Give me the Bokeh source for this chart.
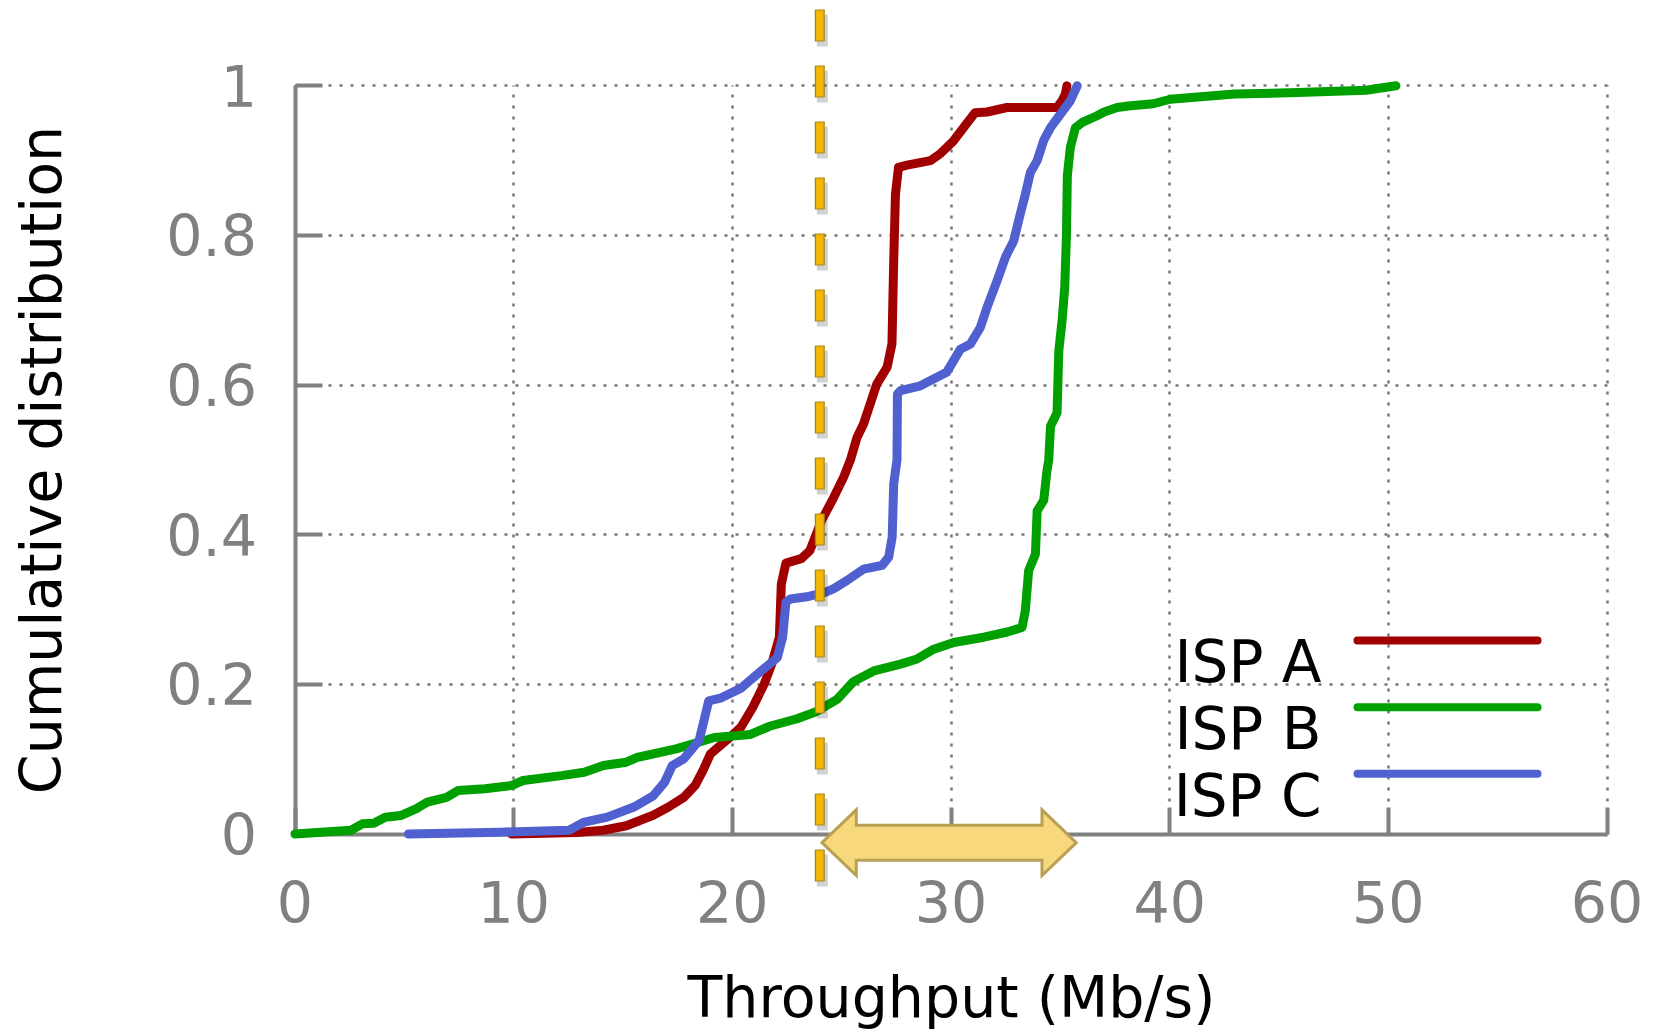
from bokeh.plotting import figure
from bokeh.models import Range1d, FixedTicker
from bokeh.core.properties import value
from bokeh.embed import file_html
from bokeh.resources import INLINE

# ---------------- data ----------------
isp_a_x = [9.9, 12.88, 14.1, 15.15, 16.38, 17.08, 17.78, 18.3, 18.66, 19.0, 19.88, 20.4,
           20.93, 21.45, 21.8, 22.15, 22.24, 22.45, 23.15, 23.55, 24.08, 24.64, 25.09, 25.4,
           25.7, 26.0, 26.6, 27.08, 27.3, 27.38, 27.46, 27.6, 27.99, 29.06, 29.5, 30.1,
           30.7, 31.1, 31.65, 32.56, 34.85, 35.08, 35.23, 35.3]
isp_a_y = [0.0, 0.002, 0.005, 0.011, 0.025, 0.036, 0.049, 0.065, 0.085, 0.107, 0.129, 0.143,
           0.169, 0.200, 0.227, 0.263, 0.334, 0.362, 0.368, 0.379, 0.419, 0.450, 0.477, 0.500,
           0.530, 0.548, 0.601, 0.624, 0.655, 0.766, 0.855, 0.891, 0.894, 0.900, 0.909, 0.926,
           0.949, 0.964, 0.965, 0.971, 0.971, 0.980, 0.989, 1.0]

isp_b_x = [0.0, 2.56, 3.08, 3.6, 4.13, 4.83, 5.53, 6.05, 6.93, 7.45, 8.68, 9.9, 10.43, 12.18,
           13.23, 14.1, 15.15, 15.68, 17.43, 19.18, 20.83, 21.7, 22.96, 23.8, 24.79, 25.55,
           26.47, 27.69, 28.45, 29.21, 30.12, 31.5, 32.57, 33.25, 33.4, 33.55, 33.86, 33.94,
           34.24, 34.39, 34.47, 34.55, 34.85, 34.93, 35.08, 35.2, 35.28, 35.32, 35.46, 35.69,
           36.0, 36.68, 37.0, 37.6, 38.1, 39.25, 40.03, 42.96, 45.87, 48.98, 50.35]
isp_b_y = [0.0, 0.005, 0.0136, 0.0143, 0.0225, 0.0247, 0.0336, 0.0425, 0.049, 0.058, 0.0604,
           0.0648, 0.0715, 0.078, 0.0826, 0.0915, 0.096, 0.1026, 0.1138, 0.129, 0.133, 0.144,
           0.154, 0.163, 0.180, 0.204, 0.218, 0.227, 0.234, 0.247, 0.256, 0.263, 0.270, 0.276,
           0.299, 0.352, 0.374, 0.432, 0.446, 0.486, 0.500, 0.545, 0.563, 0.646, 0.686, 0.730,
           0.800, 0.880, 0.918, 0.944, 0.951, 0.960, 0.965, 0.971, 0.973, 0.976, 0.982, 0.989,
           0.991, 0.994, 1.0]

isp_c_x = [5.18, 9.38, 12.53, 13.23, 14.28, 15.5, 16.38, 16.9, 17.25, 17.78, 18.48, 18.74,
           18.92, 19.5, 20.4, 21.28, 22.06, 22.3, 22.45, 22.66, 23.4, 24.25, 24.64, 25.25,
           26.0, 26.85, 27.15, 27.31, 27.38, 27.53, 27.55, 27.69, 28.6, 29.2, 29.8, 30.43,
           30.89, 31.34, 31.65, 32.1, 32.49, 32.87, 33.17, 33.4, 33.63, 33.94, 34.24, 34.55,
           35.0, 35.46, 35.77]
isp_c_y = [0.0, 0.0025, 0.005, 0.016, 0.0225, 0.036, 0.051, 0.069, 0.0915, 0.1005, 0.125, 0.156,
           0.178, 0.182, 0.195, 0.217, 0.236, 0.263, 0.310, 0.314, 0.317, 0.323, 0.328, 0.339,
           0.354, 0.359, 0.370, 0.397, 0.468, 0.500, 0.588, 0.5925, 0.599, 0.608, 0.617, 0.648,
           0.655, 0.677, 0.704, 0.739, 0.771, 0.793, 0.829, 0.855, 0.884, 0.900, 0.927, 0.944,
           0.962, 0.980, 1.0]

series_names = ["ISP A", "ISP B", "ISP C"]
series_colors = ["#A00000", "#00A000", "#5060D0"]

x_ticks = [0, 10, 20, 30, 40, 50, 60]
y_ticks = [0, 0.2, 0.4, 0.6, 0.8, 1]
y_tick_labels = ["0", "0.2", "0.4", "0.6", "0.8", "1"]

threshold_x = 24.0          # vertical dashed marker
arrow_span = [24.1, 35.73]  # double arrow extent (Mb/s)

x_title = "Throughput (Mb/s)"
y_title = "Cumulative distribution"

# ---------------- layout ----------------
W, H = 1645, 1033
PX_X = (1606.5 - 294.5) / 60.0     # pixels per Mb/s
PX_Y = (833.5 - 85.3) / 1.0        # pixels per unit of CDF
ORG = 0                             # canvas origin offset in page pixels
x_start = (ORG - 294.5) / PX_X
y_end = (833.5 - ORG) / PX_Y

FONT = "DejaVu Sans"
GRAY = "#808080"

p = figure(width=W, height=H,
           x_range=Range1d(x_start, x_start + W / PX_X),
           y_range=Range1d(y_end - H / PX_Y, y_end),
           output_backend="svg", toolbar_location=None,
           min_border=0, outline_line_color=None, background_fill_color="white")

xa = p.xaxis[0]
ya = p.yaxis[0]
xa.fixed_location = 0
ya.fixed_location = 0
xa.bounds = (0, 60)
ya.bounds = (0, 1)
xa.ticker = FixedTicker(ticks=x_ticks)
ya.ticker = FixedTicker(ticks=y_ticks)
ya.major_label_overrides = {t: l for t, l in zip(y_ticks, y_tick_labels)}
for ax in (xa, ya):
    ax.axis_line_color = GRAY
    ax.axis_line_width = 4
    ax.major_tick_in = 27
    ax.major_tick_out = 0
    ax.major_tick_line_color = GRAY
    ax.major_tick_line_width = 4
    ax.minor_tick_in = 0
    ax.minor_tick_out = 0
    ax.major_label_text_font = FONT
    ax.major_label_text_font_size = "57px"
    ax.major_label_text_color = GRAY
    ax.axis_label_text_font = FONT
    ax.axis_label_text_font_size = "57px"
    ax.axis_label_text_font_style = "normal"
    ax.axis_label_text_color = "black"
xa.axis_label = x_title
ya.axis_label = y_title
xa.major_label_standoff = 47
ya.major_label_standoff = 38
xa.axis_label_standoff = 37
ya.axis_label_standoff = 90

for g, ticks, b, cb in ((p.xgrid[0], x_ticks, (0, 60), (0, 1)),
                        (p.ygrid[0], y_ticks, (0, 1), (0, 60))):
    g.ticker = FixedTicker(ticks=ticks)
    g.bounds = b
    g.cross_bounds = cb
    g.grid_line_color = "#777777"
    g.grid_line_width = 2.5
    g.grid_line_dash = "3 8"

# curves
for xs, ys, c in ((isp_a_x, isp_a_y, series_colors[0]),
                  (isp_b_x, isp_b_y, series_colors[1]),
                  (isp_c_x, isp_c_y, series_colors[2])):
    p.line(xs, ys, line_color=c, line_width=9, line_join="round", line_cap="round",
           level="annotation")

# legend (label on the left, sample line on the right)
leg_text_right = (1321 - 294.5) / PX_X
leg_line = ((1357 - 294.5) / PX_X, (1537 - 294.5) / PX_X)
leg_rows = [(833.5 - yy) / PX_Y for yy in (640, 706.7, 773.3)]
base_off = 21.7 / PX_Y
p.text(x=[leg_text_right] * 3, y=[r - base_off for r in leg_rows], text=series_names,
       text_align="right", text_baseline="alphabetic", text_font=value(FONT),
       text_font_size="58px", text_color="black", level="annotation")
p.segment(x0=[leg_line[0]] * 3, y0=leg_rows, x1=[leg_line[1]] * 3, y1=leg_rows,
          line_color=series_colors, line_width=8, line_cap="round", level="annotation")

# dashed threshold marker
dash_top = (833.5 - 9) / PX_Y
dash_bot = (833.5 - 884) / PX_Y
sx, sy = 2.5 / PX_X, 5 / PX_Y
p.line([threshold_x + sx, threshold_x + sx], [dash_top - sy, dash_bot - sy],
       line_color="#000000", line_alpha=0.18, line_width=11, line_dash="32 24",
       level="overlay")
p.line([threshold_x, threshold_x], [dash_top, dash_bot],
       line_color="#A88420", line_width=10, line_dash="32 24", level="overlay")
p.line([threshold_x, threshold_x], [dash_top - 1 / PX_Y, dash_bot],
       line_color="#F2B705", line_width=7.5, line_dash="30 26", level="overlay")

# double-headed arrow
ay = (833.5 - 842.2) / PX_Y
hl = 34.3 / PX_X
hh = 32.9 / PX_Y
sh = 17.5 / PX_Y
a0, a1 = arrow_span
ax_pts = [a0, a0 + hl, a0 + hl, a1 - hl, a1 - hl, a1, a1 - hl, a1 - hl, a0 + hl, a0 + hl]
ay_pts = [ay, ay + hh, ay + sh, ay + sh, ay + hh, ay, ay - hh, ay - sh, ay - sh, ay - hh]
p.patch(ax_pts, ay_pts, fill_color="#F8D87C", line_color="#B9A055", line_width=3,
        line_join="miter", level="overlay")

open("out.html", "w").write(file_html(p, INLINE, "CDF"))
